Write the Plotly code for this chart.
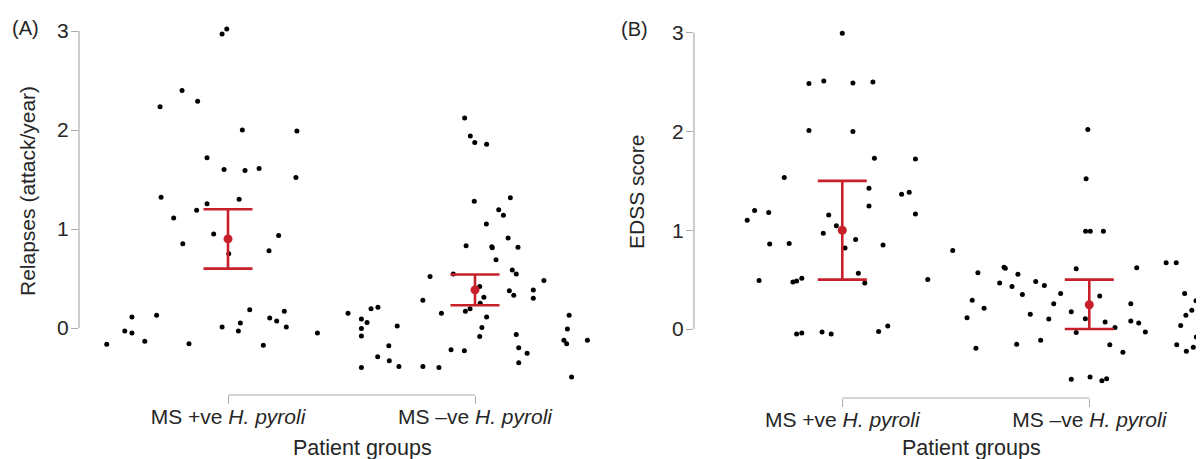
import plotly.graph_objects as go

# ---------------- data ----------------
categories = [0, 1]
tick_labels = ["MS +ve <i>H. pyroli</i>", "MS \u2013ve <i>H. pyroli</i>"]

# Panel A: relapses (attack/year); jitter offsets in category units
a_pos_offset = [-0.491, -0.418, -0.389, -0.389, -0.337, -0.289, -0.275, -0.271, -0.220, -0.186,
                -0.183, -0.158, -0.123, -0.127, -0.085, -0.085, -0.058, -0.024, -0.005, -0.016,
                -0.024, 0.003, 0.042, 0.050, 0.045, 0.058, 0.069, 0.088, 0.126, 0.143,
                0.166, 0.169, 0.197, 0.205, 0.228, 0.236, 0.275, 0.279, 0.362]
a_pos_value = [-0.165, -0.03, -0.05, 0.11, -0.135, 0.13, 2.235, 1.32, 1.11, 2.40,
               0.85, -0.16, 2.29, 1.19, 1.72, 1.255, 0.95, 2.97, 3.02, 1.60,
               0.01, 0.75, -0.03, 0.05, 1.30, 2.00, 1.59, 0.185, 1.61, -0.175,
               0.78, 0.10, 0.07, 0.935, 0.17, 0.01, 1.52, 1.99, -0.05]
a_neg_offset = [-0.514, -0.460, -0.437, -0.460, -0.460, -0.460, -0.421, -0.393, -0.394, -0.349,
                -0.347, -0.315, -0.308, -0.211, -0.211, -0.182, -0.146, -0.136, -0.097, -0.088,
                -0.043, -0.042, -0.039, -0.036, -0.020, -0.019, -0.001, -0.003, 0.019, 0.021,
                0.019, 0.028, 0.036, 0.047, 0.046, 0.047, 0.068, 0.070, 0.085, 0.096,
                0.115, 0.134, 0.143, 0.151, 0.167, 0.139, 0.157, 0.167, 0.174, 0.177,
                0.177, 0.211, 0.236, 0.236, 0.279, 0.381, 0.374, 0.360, 0.371, 0.391, 0.455]
a_neg_value = [0.15, 0.09, 0.055, -0.005, -0.08, -0.40, 0.195, 0.21, -0.29, -0.18,
               -0.33, 0.02, -0.39, -0.39, 0.28, 0.52, -0.40, 0.15, -0.22, 0.545,
               -0.23, 2.12, 0.17, 0.83, 0.195, 1.94, 1.875, 1.28, 0.42, 0.25,
               -0.085, 0.005, 0.31, 0.11, 1.05, 1.855, 0.82, 0.81, 0.69, 1.195,
               1.14, 0.91, 1.315, 0.585, 0.545, 0.375, 0.33, -0.065, 0.815, -0.20,
               -0.35, -0.255, 0.385, 0.30, 0.48, 0.13, -0.01, -0.125, -0.16, -0.495, -0.125]
a_means = [0.90, 0.385]
a_err_plus = [0.30, 0.155]
a_err_minus = [0.30, 0.155]

# Panel B: EDSS score
b_pos_offset = [-0.385, -0.355, -0.337, -0.298, -0.294, -0.235, -0.215, -0.200, -0.185, -0.164,
                -0.185, -0.164, -0.135, -0.135, -0.082, -0.075, -0.077, -0.055, -0.045, -0.024,
                0.000, 0.011, 0.043, 0.043, 0.054, 0.065, 0.091, 0.108, 0.108, 0.124,
                0.130, 0.165, 0.147, 0.184, 0.240, 0.271, 0.296, 0.296, 0.346, 0.447]
b_pos_value = [1.10, 1.20, 0.49, 1.18, 0.86, 1.535, 0.865, 0.475, 0.485, 0.515,
               -0.05, -0.04, 2.485, 2.01, -0.03, 2.51, 0.97, 1.155, -0.05, 1.045,
               2.995, 0.82, 2.49, 2.00, 0.905, 0.565, 0.465, 1.425, 1.245, 2.50,
               1.73, 0.85, -0.025, 0.03, 1.365, 1.385, 1.72, 1.165, 0.50, 0.795]
b_neg_offset = [-0.495, -0.474, -0.459, -0.451, -0.426, -0.363, -0.345, -0.340, -0.313, -0.289,
                -0.294, -0.271, -0.239, -0.217, -0.197, -0.182, -0.164, -0.144, -0.116, -0.073,
                -0.073, -0.053, -0.053, -0.016, -0.013, -0.006, -0.015, 0.004, 0.003, 0.042,
                0.057, 0.051, 0.070, 0.064, 0.083, 0.104, 0.136, 0.168, 0.168, 0.192,
                0.200, 0.227, 0.311, 0.352, 0.354, 0.370, 0.386, 0.391, 0.393, 0.415,
                0.421, 0.432, 0.433, 0.447, 0.453, 0.453, 0.453, 0.457]
b_neg_value = [0.115, 0.29, -0.195, 0.57, 0.21, 0.465, 0.625, 0.615, 0.43, 0.555,
               -0.155, 0.35, 0.15, 0.48, -0.115, 0.44, 0.10, 0.255, 0.36, 0.175,
               -0.51, 0.61, -0.035, 0.105, 1.52, 2.02, 0.99, 0.99, -0.485, 0.335,
               0.99, -0.525, -0.505, 0.07, -0.16, 0.015, -0.235, 0.255, 0.08, 0.62,
               0.06, -0.03, 0.67, 0.67, -0.16, 0.035, 0.36, 0.14, -0.225, 0.19,
               -0.185, 0.285, -0.08, -0.135, 0.70, 0.45, 0.40, 0.31]
b_means = [1.00, 0.245]
b_err_plus = [0.50, 0.255]
b_err_minus = [0.50, 0.245]

y_ticks = [0, 1, 2, 3]
y_titles = ["Relapses (attack/year)", "EDSS score"]
panel_labels = ["(A)", "(B)"]
x_title = "Patient groups"

# ---------------- style / layout ----------------
WIN_W, WIN_H = 1204, 459
OFF = 8                       # default page body margin
W, H = WIN_W - OFF, WIN_H - OFF
FONT = "Liberation Sans, Arial, sans-serif"
TXT = "#262626"
AX = "#ababab"
RED = "#c8202b"
PX_PER_CAT = 247.0
Y_LO, Y_HI = -0.6, 3.1


def px_x(p):
    return (p - OFF) / W


def px_y(p):
    return 1 - (p - OFF) / H


panels = [
    dict(axis_px=79, cat0_px=228, right_px=600, y3_px=31, y0_px=328, brk_px=395,
         data=[(a_pos_offset, a_pos_value), (a_neg_offset, a_neg_value)],
         means=a_means, ep=a_err_plus, em=a_err_minus,
         ytitle_x=27, ytitle_y=191, lab_x=25, lab_y=28, xt_x=362, xt_y=448),
    dict(axis_px=694, cat0_px=842.3, right_px=1204, y3_px=32.7, y0_px=329, brk_px=398,
         data=[(b_pos_offset, b_pos_value), (b_neg_offset, b_neg_value)],
         means=b_means, ep=b_err_plus, em=b_err_minus,
         ytitle_x=636, ytitle_y=192, lab_x=634, lab_y=29, xt_x=971, xt_y=448),
]

fig = go.Figure()
layout = dict(
    width=W, height=H, margin=dict(l=0, r=0, t=0, b=0, pad=0, autoexpand=False),
    paper_bgcolor="white", plot_bgcolor="rgba(0,0,0,0)",
    showlegend=False, font=dict(family=FONT, color=TXT, size=21),
    annotations=[], shapes=[],
)

for i, p in enumerate(panels):
    xs = "" if i == 0 else str(i + 1)
    xref, yref = "x" + xs, "y" + xs
    for gi, (offs, vals) in enumerate(p["data"]):
        fig.add_trace(go.Scatter(
            x=[categories[gi] + o for o in offs], y=vals, mode="markers",
            marker=dict(size=5, color="black"), cliponaxis=False,
            xaxis=xref, yaxis=yref, hoverinfo="skip"))
    fig.add_trace(go.Scatter(
        x=categories, y=p["means"], mode="markers",
        marker=dict(size=9, color=RED), cliponaxis=False,
        error_y=dict(type="data", symmetric=False, array=p["ep"], arrayminus=p["em"],
                     color=RED, thickness=2.6, width=24.5),
        xaxis=xref, yaxis=yref, hoverinfo="skip"))

    ppu = (p["y0_px"] - p["y3_px"]) / 3.0
    top_px = p["y3_px"] - (Y_HI - 3) * ppu
    bot_px = p["y0_px"] + (0 - Y_LO) * ppu
    x_lo = (p["axis_px"] - p["cat0_px"]) / PX_PER_CAT
    x_hi = (p["right_px"] - p["cat0_px"]) / PX_PER_CAT
    layout["xaxis" + xs] = dict(
        domain=[max(0, px_x(p["axis_px"])), min(1, px_x(p["right_px"]))],
        range=[x_lo, (min(p["right_px"], WIN_W) - p["cat0_px"]) / PX_PER_CAT],
        anchor="free", position=px_y(p["brk_px"]), showgrid=False, zeroline=False,
        showline=False, ticks="outside", ticklen=8, tickwidth=1.2, tickcolor=AX,
        tickvals=categories, ticktext=tick_labels, automargin=False, ticklabelstandoff=-5,
        tickfont=dict(size=21, color=TXT, family=FONT), fixedrange=True)
    layout["yaxis" + xs] = dict(
        domain=[px_y(bot_px), px_y(top_px)], range=[Y_LO, Y_HI],
        anchor=xref, showgrid=False, zeroline=False, showline=False,
        ticks="outside", ticklen=7, tickwidth=1.2, tickcolor=AX, automargin=False,
        ticklabelstandoff=-2,
        tickvals=y_ticks, tickfont=dict(size=21, color=TXT, family=FONT), fixedrange=True)
    # y axis line drawn only over the tick span 0..3
    layout["shapes"].append(dict(
        type="line", xref=xref + " domain", yref=yref, x0=0, x1=0,
        y0=y_ticks[0], y1=y_ticks[-1], line=dict(color=AX, width=1.2)))
    # category bracket
    layout["shapes"].append(dict(
        type="line", xref=xref, yref="paper", x0=categories[0], x1=categories[1],
        y0=px_y(p["brk_px"]), y1=px_y(p["brk_px"]), line=dict(color=AX, width=1.2)))
    layout["annotations"] += [
        dict(text=y_titles[i], x=px_x(p["ytitle_x"]), y=px_y(p["ytitle_y"]),
             xref="paper", yref="paper", textangle=-90, showarrow=False,
             xanchor="center", yanchor="middle", font=dict(size=21, color=TXT, family=FONT)),
        dict(text=panel_labels[i], x=px_x(p["lab_x"]), y=px_y(p["lab_y"]),
             xref="paper", yref="paper", showarrow=False, xanchor="center", yanchor="middle",
             font=dict(size=20, color=TXT, family=FONT)),
        dict(text=x_title, x=px_x(p["xt_x"]), y=px_y(p["xt_y"]),
             xref="paper", yref="paper", showarrow=False, xanchor="center", yanchor="middle",
             font=dict(size=21.5, color=TXT, family=FONT)),
    ]

fig.update_layout(**layout)
fig.write_html("out.html")
